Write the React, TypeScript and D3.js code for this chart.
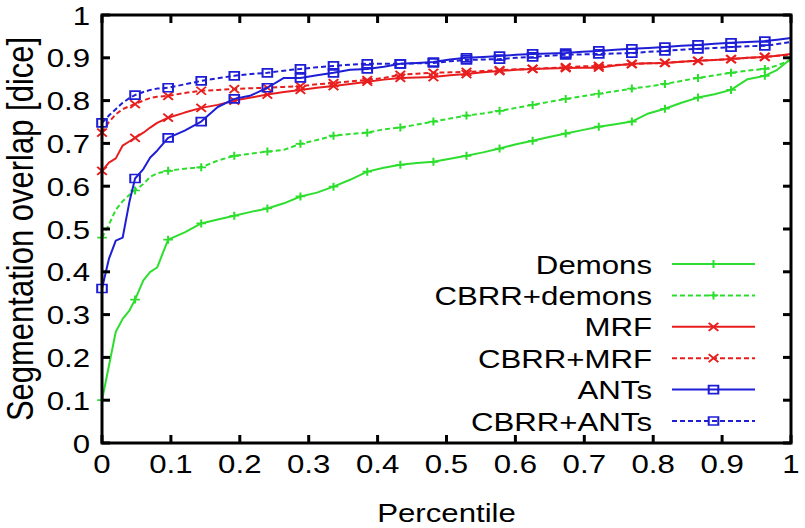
import React from "react";
import * as d3 from "d3";

const percentile = [0,0.01,0.02,0.03,0.04,0.048,0.06,0.07,0.08,0.096,0.12,0.144,0.168,0.192,0.216,0.24,0.264,0.288,0.312,0.336,0.36,0.385,0.409,0.433,0.457,0.481,0.505,0.529,0.553,0.577,0.601,0.625,0.649,0.673,0.697,0.721,0.745,0.769,0.793,0.817,0.841,0.865,0.889,0.913,0.937,0.962,0.98,1.0];
const markerIndex = [0,5,9,11,13,15,17,19,21,23,25,27,29,31,33,35,37,39,41,43,45];

const demons = [0.10,0.18,0.26,0.29,0.31,0.335,0.38,0.40,0.41,0.475,0.492,0.513,0.522,0.531,0.54,0.548,0.56,0.576,0.585,0.599,0.615,0.634,0.643,0.650,0.654,0.657,0.664,0.671,0.679,0.688,0.698,0.706,0.715,0.723,0.731,0.739,0.745,0.751,0.77,0.781,0.795,0.807,0.815,0.825,0.85,0.858,0.872,0.898];
const cbrrDemons = [0.48,0.51,0.545,0.565,0.58,0.59,0.605,0.622,0.63,0.636,0.641,0.644,0.66,0.671,0.676,0.681,0.685,0.699,0.708,0.718,0.722,0.725,0.733,0.737,0.744,0.751,0.758,0.765,0.77,0.776,0.783,0.790,0.797,0.804,0.81,0.816,0.822,0.828,0.833,0.839,0.846,0.853,0.859,0.865,0.870,0.874,0.882,0.895];
const mrf = [0.636,0.655,0.665,0.695,0.705,0.713,0.725,0.737,0.748,0.760,0.772,0.783,0.79,0.80,0.807,0.814,0.82,0.825,0.83,0.834,0.839,0.844,0.849,0.853,0.854,0.855,0.859,0.862,0.866,0.869,0.872,0.874,0.875,0.876,0.877,0.877,0.882,0.886,0.887,0.888,0.891,0.893,0.895,0.897,0.9,0.902,0.905,0.909];
const cbrrMrf = [0.725,0.75,0.768,0.78,0.787,0.792,0.8,0.806,0.809,0.811,0.818,0.823,0.825,0.827,0.829,0.830,0.832,0.834,0.838,0.841,0.845,0.848,0.853,0.86,0.863,0.865,0.866,0.867,0.869,0.871,0.873,0.874,0.876,0.878,0.88,0.881,0.883,0.885,0.887,0.888,0.891,0.893,0.895,0.897,0.9,0.902,0.905,0.908];
const ants = [0.361,0.43,0.473,0.48,0.565,0.618,0.64,0.667,0.683,0.713,0.73,0.751,0.785,0.804,0.812,0.83,0.853,0.853,0.859,0.865,0.872,0.874,0.879,0.886,0.888,0.890,0.896,0.900,0.902,0.904,0.907,0.909,0.910,0.911,0.914,0.916,0.919,0.921,0.923,0.925,0.928,0.93,0.933,0.935,0.937,0.939,0.942,0.946];
const cbrrAnts = [0.748,0.765,0.78,0.795,0.806,0.813,0.82,0.825,0.828,0.830,0.838,0.846,0.852,0.858,0.862,0.865,0.87,0.874,0.878,0.881,0.884,0.886,0.886,0.886,0.887,0.888,0.892,0.895,0.896,0.897,0.9,0.902,0.905,0.907,0.908,0.909,0.91,0.911,0.914,0.916,0.919,0.921,0.923,0.925,0.927,0.928,0.932,0.937];

const seriesNames = ["Demons", "CBRR+demons", "MRF", "CBRR+MRF", "ANTs", "CBRR+ANTs"];
const seriesValues = [demons, cbrrDemons, mrf, cbrrMrf, ants, cbrrAnts];
const seriesColors = ["#2ede2e", "#2ede2e", "#e81e1e", "#e81e1e", "#1e1ed6", "#1e1ed6"];
const seriesDashed = [false, true, false, true, false, true];
const seriesMarker = ["plus", "plus", "cross", "cross", "square", "square"];

const xTicks = [0, 0.1, 0.2, 0.3, 0.4, 0.5, 0.6, 0.7, 0.8, 0.9, 1];
const yTicks = [0, 0.1, 0.2, 0.3, 0.4, 0.5, 0.6, 0.7, 0.8, 0.9, 1];
const tickLabel = (v: number) => (v === 0 ? "0" : v === 1 ? "1" : String(v));

const W = 805, H = 528;
const L = 102, R = 791, T = 15, B = 443;
const SX = 1.2;
const FONT = "'Liberation Sans', Arial, Helvetica, sans-serif";
const FS = 26;

function Marker({ kind, x, y, color }: { kind: string; x: number; y: number; color: string }) {
  const h = 4;
  let d = "";
  if (kind === "plus") d = `M${-h},0H${h}M0,${-h}V${h}`;
  else if (kind === "cross") d = `M${-h},${-h}L${h},${h}M${-h},${h}L${h},${-h}`;
  else d = `M${-h},${-h}H${h}V${h}H${-h}Z`;
  return (
    <path
      d={d}
      transform={`translate(${x},${y}) scale(${SX},1)`}
      fill="none"
      stroke={color}
      strokeWidth={1.7}
    />
  );
}

export default function App() {
  const x = d3.scaleLinear().domain([0, 1]).range([L, R]);
  const y = d3.scaleLinear().domain([0, 1]).range([B, T]);
  const line = d3
    .line<number>()
    .x((_, i) => x(percentile[i]))
    .y((v) => y(v));

  const legendTop = 264;
  const legendStep = 31.4;
  const legTextX = 652;
  const legLine0 = 672, legLine1 = 755;

  return (
    <svg width={W} height={H} style={{ position: "absolute", left: 0, top: 0, background: "#fff" }}>
      <rect x={0} y={0} width={W} height={H} fill="#fff" />
      {seriesValues.map((vals, si) => (
        <g key={si}>
          <path
            d={line(vals) || ""}
            fill="none"
            stroke={seriesColors[si]}
            strokeWidth={2}
            strokeDasharray={seriesDashed[si] ? "5,3" : undefined}
            strokeLinejoin="round"
          />
          {markerIndex.map((mi) => (
            <Marker key={mi} kind={seriesMarker[si]} x={x(percentile[mi])} y={y(vals[mi])} color={seriesColors[si]} />
          ))}
        </g>
      ))}
      <rect x={L} y={T} width={R - L} height={B - T} fill="none" stroke="#000" strokeWidth={3} />
      {xTicks.map((t) => (
        <g key={"x" + t}>
          <line x1={x(t)} x2={x(t)} y1={B} y2={B - 8} stroke="#000" strokeWidth={3} />
          <line x1={x(t)} x2={x(t)} y1={T} y2={T + 8} stroke="#000" strokeWidth={3} />
          <text
            transform={`translate(${x(t)},${B + 30}) scale(${SX},1)`}
            textAnchor="middle"
            fontFamily={FONT}
            fontSize={FS}
            fill="#000"
          >
            {tickLabel(t)}
          </text>
        </g>
      ))}
      {yTicks.map((t) => (
        <g key={"y" + t}>
          <line x1={L} x2={L + 8} y1={y(t)} y2={y(t)} stroke="#000" strokeWidth={3} />
          <line x1={R} x2={R - 8} y1={y(t)} y2={y(t)} stroke="#000" strokeWidth={3} />
          <text
            transform={`translate(${L - 12},${y(t) + 9.5}) scale(${SX},1)`}
            textAnchor="end"
            fontFamily={FONT}
            fontSize={FS}
            fill="#000"
          >
            {tickLabel(t)}
          </text>
        </g>
      ))}
      <text
        transform={`translate(${(L + R) / 2},${522}) scale(${SX},1)`}
        textAnchor="middle"
        fontFamily={FONT}
        fontSize={FS}
        fill="#000"
      >
        Percentile
      </text>
      <text
        transform={`translate(${33},${(T + B) / 2}) scale(${SX},1) rotate(-90)`}
        textAnchor="middle"
        fontFamily={FONT}
        fontSize={31}
        fill="#000"
      >
        Segmentation overlap [dice]
      </text>
      {seriesNames.map((name, si) => {
        const ly = legendTop + si * legendStep;
        return (
          <g key={name}>
            <text
              transform={`translate(${legTextX},${ly + 9.5}) scale(${SX},1)`}
              textAnchor="end"
              fontFamily={FONT}
              fontSize={FS}
              fill="#000"
            >
              {name}
            </text>
            <line
              x1={legLine0}
              x2={legLine1}
              y1={ly}
              y2={ly}
              stroke={seriesColors[si]}
              strokeWidth={2}
              strokeDasharray={seriesDashed[si] ? "5,3" : undefined}
            />
            <Marker kind={seriesMarker[si]} x={(legLine0 + legLine1) / 2} y={ly} color={seriesColors[si]} />
          </g>
        );
      })}
    </svg>
  );
}
